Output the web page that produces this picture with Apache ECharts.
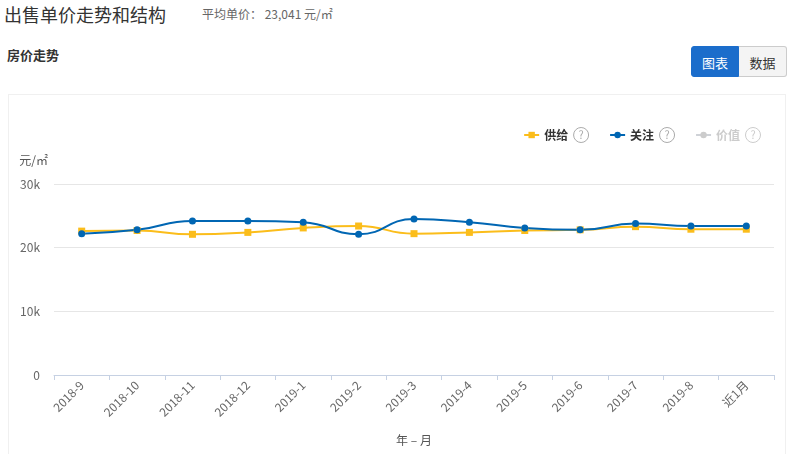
<!DOCTYPE html>
<html><head><meta charset="utf-8">
<script src="https://cdn.jsdelivr.net/npm/echarts@6/dist/echarts.min.js"></script>
<style>
html,body{margin:0;padding:0;background:#fff;width:797px;height:454px;overflow:hidden;font-family:"Noto Sans CJK SC","Noto Sans",sans-serif;}
#title{position:absolute;left:4px;top:1px;font-size:18px;color:#333;line-height:26px;}
#avg{position:absolute;left:202px;top:5px;font-size:12px;color:#666;line-height:18px;}
#sub{position:absolute;left:7px;top:45px;font-size:13px;font-weight:bold;color:#333;line-height:20px;}
.btn{position:absolute;top:46px;height:31px;line-height:31px;font-size:13px;text-align:center;box-sizing:border-box;}
#b1{left:691px;width:48px;background:#1b6dcb;color:#fff;border-radius:3px 0 0 3px;border:1px solid #1b6dcb;}
#b2{left:739px;width:48px;background:#f4f4f4;color:#333;border:1px solid #ccc;border-left:none;border-radius:0 3px 3px 0;}
#card{position:absolute;left:8px;top:94px;width:778px;height:370px;border:1px solid #f0f0f0;box-sizing:border-box;}
#chart{position:absolute;left:8px;top:94px;width:778px;height:360px;}
</style></head>
<body>
<div id="title">出售单价走势和结构</div>
<div id="avg">平均单价： 23,041 元/㎡</div>
<div id="sub">房价走势</div>
<div class="btn" id="b1">图表</div>
<div class="btn" id="b2">数据</div>
<div id="card"></div>
<div id="chart"></div>
<script>
var categories = ['2018-9','2018-10','2018-11','2018-12','2019-1','2019-2','2019-3','2019-4','2019-5','2019-6','2019-7','2019-8','近1月'];
var supplyValues = [22600, 22700, 22100, 22400, 23100, 23400, 22200, 22400, 22700, 22800, 23300, 22900, 22900];
var attentionValues = [22200, 22800, 24200, 24200, 24000, 22100, 24500, 24000, 23100, 22800, 23800, 23400, 23400];
var valueValues = [];
var yTicks = [0, 10000, 20000, 30000];

var chart = echarts.init(document.getElementById('chart'));
var q = {width:13,height:13,lineHeight:13,borderRadius:8,borderWidth:1,borderColor:'#aaa',color:'#aaa',align:'center',fontSize:11,padding:[1,1,1,1],fontWeight:'normal'};
chart.setOption({
  animation:false,
  textStyle:{fontFamily:'"Noto Sans CJK SC","Noto Sans",sans-serif'},
  legend:{
    top:28, right:20, itemWidth:15, itemHeight:8, itemGap:20,
    selected:{'价值':false},
    inactiveColor:'#ccc',
    textStyle:{fontSize:12,fontWeight:'bold',color:'#333',rich:{q:q,qi:Object.assign({},q,{borderColor:'#ccc',color:'#ccc'})}},
    formatter:function(n){return n+'  {'+(n==='价值'?'qi':'q')+'|?}';},
    data:['供给','关注','价值']
  },
  grid:{left:46,top:90,width:720,height:191,containLabel:false},
  xAxis:{
    type:'category', data:categories, boundaryGap:true,
    name:'年 – 月', nameLocation:'middle', nameGap:59,
    nameTextStyle:{color:'#555',fontSize:12},
    axisLine:{lineStyle:{color:'#c6d1e3'}},
    axisTick:{show:true,alignWithLabel:false,length:5,lineStyle:{color:'#c6d1e3'}},
    axisLabel:{interval:0,rotate:45,color:'#666',fontSize:12,margin:8}
  },
  yAxis:{
    type:'value', min:yTicks[0], max:yTicks[yTicks.length-1], interval:10000,
    name:'元/㎡', nameGap:18,
    nameTextStyle:{color:'#555',fontSize:12,align:'right',padding:[0,6,0,0]},
    axisLine:{show:false}, axisTick:{show:false},
    splitLine:{lineStyle:{color:'#e6e6e6'}},
    axisLabel:{color:'#666',fontSize:12,margin:14,formatter:function(v){return v===0?'0':(v/1000)+'k';}}
  },
  series:[
    {name:'供给',type:'line',smooth:true,data:supplyValues,symbol:'rect',symbolSize:7,
     itemStyle:{color:'#fbbd1b'},lineStyle:{width:2,color:'#fbbd1b'}},
    {name:'关注',type:'line',smooth:true,data:attentionValues,symbol:'circle',symbolSize:7,
     itemStyle:{color:'#0066b3'},lineStyle:{width:2,color:'#0066b3'}},
    {name:'价值',type:'line',smooth:true,data:valueValues,symbol:'circle',symbolSize:7,
     itemStyle:{color:'#c8c8c8'},lineStyle:{width:2,color:'#c8c8c8'}}
  ]
});
</script>
</body></html>
